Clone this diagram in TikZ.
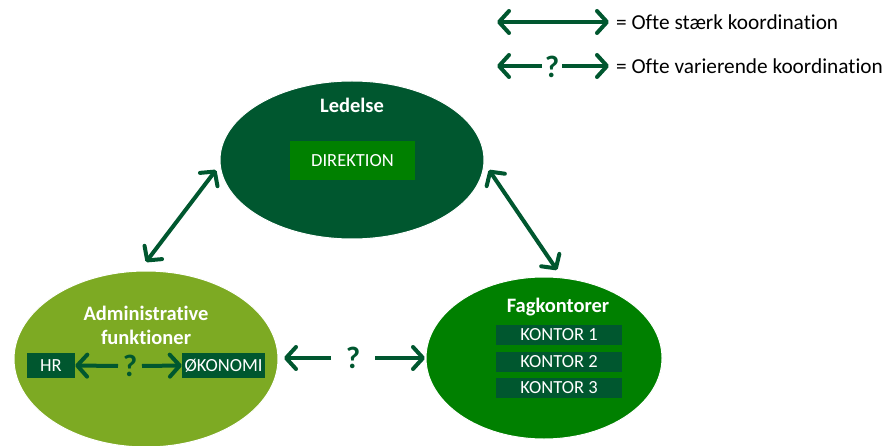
\documentclass[tikz,border=0pt]{standalone}
\usepackage{fontspec}
\setmainfont{Carlito}[Ligatures=NoCommon]
\usetikzlibrary{arrows.meta,shapes.geometric}
\definecolor{dkgreen}{HTML}{00572F}
\definecolor{midgreen}{HTML}{008000}
\definecolor{olive}{HTML}{7DAA23}
\tikzset{
  ell/.style={ellipse,draw=white,line width=1pt,inner sep=0pt},
  title/.style={text=white,font=\bfseries\fontsize{20.5}{22}\selectfont},
  box/.style={rectangle,inner sep=0pt,text=white,font=\fontsize{18.5}{20}\selectfont},
  arr/.style={draw=dkgreen,line width=4pt,{Straight Barb[length=10pt,width=22pt,line width=4pt,round]}-{Straight Barb[length=10pt,width=22pt,line width=4pt,round]}},
  larr/.style={draw=dkgreen,line width=4pt,-{Straight Barb[length=10pt,width=22pt,line width=4pt,round]}},
  q/.style={text=dkgreen,font=\bfseries\fontsize{31}{32}\selectfont,inner sep=0pt},
  legtext/.style={anchor=west,font=\fontsize{21.3}{23}\selectfont,inner sep=0pt}
}
\begin{document}
\begin{tikzpicture}[x=1pt,y=-1pt]
\useasboundingbox (0,0) rectangle (888,446);
% ellipses
\node[ell,fill=dkgreen,minimum width=264pt,minimum height=158pt] (led) at (352,160) {};
\node[ell,fill=olive,minimum width=264pt,minimum height=176pt] (adm) at (146,359) {};
\node[ell,fill=midgreen,minimum width=236pt,minimum height=162pt] (fag) at (544,358) {};
% titles
\node[title] (ledt) at (352,105) {Ledelse};
\node[title,align=center] (admt) at (146,325) {Administrative\\[2pt]funktioner};
\node[title] (fagt) at (558,307) {Fagkontorer};
% boxes
\node[box,fill=midgreen,minimum width=125pt,minimum height=39pt] (dir) at (352.5,160.5) {DIREKTION};
\node[box,fill=dkgreen,minimum width=48pt,minimum height=25pt] (hr) at (51,365.5) {HR};
\node[box,fill=dkgreen,minimum width=83pt,minimum height=25pt] (oko) at (223.5,365.5) {ØKONOMI};
\node[box,fill=dkgreen,minimum width=126pt,minimum height=20pt] (k1) at (559,335) {KONTOR 1};
\node[box,fill=dkgreen,minimum width=126pt,minimum height=20pt] (k2) at (559,362) {KONTOR 2};
\node[box,fill=dkgreen,minimum width=126pt,minimum height=20pt] (k3) at (559,388) {KONTOR 3};
% coordinates for connectors
\coordinate (a1) at (216,170);
\coordinate (a2) at (146,262);
\coordinate (b1) at (489,170);
\coordinate (b2) at (557,270);
\draw[arr] (a1) -- (a2);
\draw[arr] (b1) -- (b2);
% inner HR - OKONOMI
\node[q] (q1) at (130,366) {?};
\coordinate (q1l) at (118,366);
\coordinate (q1r) at (142,366);
\draw[larr] (q1l) -- (hr.east);
\draw[larr] (q1r) -- (oko.west);
% middle
\node[q] (q2) at (353,358) {?};
\coordinate (m1) at (331,358);
\coordinate (m2) at (375,358);
\coordinate (m1e) at (284,358);
\coordinate (m2e) at (425,358);
\draw[larr] (m1) -- (m1e);
\draw[larr] (m2) -- (m2e);
% legend
\coordinate (l1a) at (497,22);
\coordinate (l1b) at (609,22);
\draw[arr] (l1a) -- (l1b);
\node[legtext] (lt1) at (616,22) {= Ofte stærk koordination};
\node[q] (q3) at (552,67) {?};
\coordinate (l2a) at (497,66);
\coordinate (l2am) at (542,66);
\coordinate (l2bm) at (562,66);
\coordinate (l2b) at (609,66);
\draw[larr] (l2am) -- (l2a);
\draw[larr] (l2bm) -- (l2b);
\node[legtext] (lt2) at (616,66) {= Ofte varierende koordination};
\end{tikzpicture}
\end{document}
